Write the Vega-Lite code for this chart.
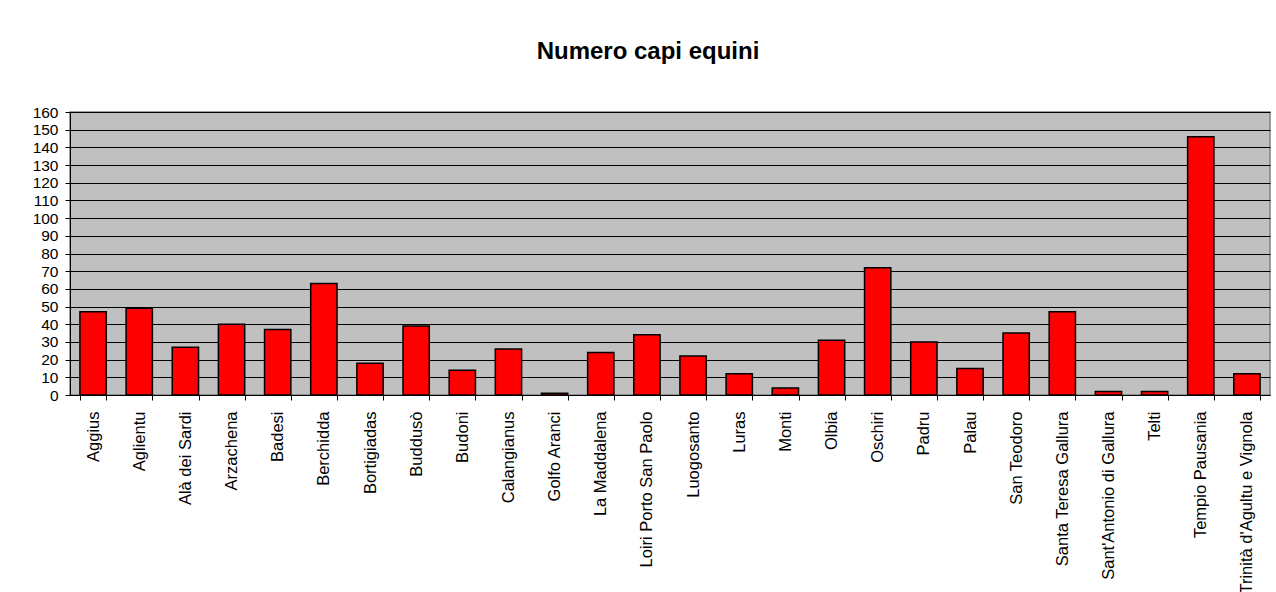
{
  "$schema": "https://vega.github.io/schema/vega-lite/v6.json",
  "autosize": "none",
  "width": 1200,
  "height": 283,
  "padding": {"left": 70, "top": 112, "right": 6, "bottom": 197},
  "background": "white",
  "title": {
    "text": "Numero capi equini",
    "font": "Liberation Sans",
    "fontSize": 24,
    "fontWeight": "bold",
    "color": "black",
    "anchor": "middle",
    "frame": "group",
    "dx": -22,
    "offset": 41
  },
  "data": {
    "values": [
      {"comune": "Aggius", "capi": 47},
      {"comune": "Aglientu", "capi": 49},
      {"comune": "Alà dei Sardi", "capi": 27},
      {"comune": "Arzachena", "capi": 40},
      {"comune": "Badesi", "capi": 37},
      {"comune": "Berchidda", "capi": 63},
      {"comune": "Bortigiadas", "capi": 18},
      {"comune": "Buddusò", "capi": 39},
      {"comune": "Budoni", "capi": 14},
      {"comune": "Calangianus", "capi": 26},
      {"comune": "Golfo Aranci", "capi": 1},
      {"comune": "La Maddalena", "capi": 24},
      {"comune": "Loiri Porto San Paolo", "capi": 34},
      {"comune": "Luogosanto", "capi": 22},
      {"comune": "Luras", "capi": 12},
      {"comune": "Monti", "capi": 4},
      {"comune": "Olbia", "capi": 31},
      {"comune": "Oschiri", "capi": 72},
      {"comune": "Padru", "capi": 30},
      {"comune": "Palau", "capi": 15},
      {"comune": "San Teodoro", "capi": 35},
      {"comune": "Santa Teresa Gallura", "capi": 47},
      {"comune": "Sant'Antonio di Gallura", "capi": 2},
      {"comune": "Telti", "capi": 2},
      {"comune": "Tempio Pausania", "capi": 146},
      {"comune": "Trinità d'Agultu e Vignola", "capi": 12}
    ]
  },
  "mark": {"type": "bar", "color": "#FF0000", "stroke": "black", "strokeWidth": 1.5},
  "encoding": {
    "x": {
      "field": "comune",
      "type": "nominal",
      "sort": null,
      "title": null,
      "scale": {"paddingInner": 0.43, "paddingOuter": 0.215},
      "axis": {
        "labelAngle": 270,
        "labelAlign": "right",
        "labelBaseline": "middle",
        "labelFont": "Liberation Sans",
        "labelFontSize": 16.5,
        "labelColor": "black",
        "labelPadding": 11,
        "labelLimit": 0,
        "tickBand": "extent",
        "tickSize": 5,
        "tickColor": "black",
        "domainColor": "black",
        "grid": false
      }
    },
    "y": {
      "field": "capi",
      "type": "quantitative",
      "title": null,
      "scale": {"domain": [0, 160], "nice": false},
      "axis": {
        "values": [0, 10, 20, 30, 40, 50, 60, 70, 80, 90, 100, 110, 120, 130, 140, 150, 160],
        "labelFont": "Liberation Sans",
        "labelFontSize": 15.5,
        "labelColor": "black",
        "labelPadding": 7,
        "tickSize": 5,
        "tickColor": "black",
        "domainColor": "black",
        "grid": true,
        "gridColor": "black",
        "gridOpacity": 1,
        "gridWidth": 1
      }
    }
  },
  "config": {
    "view": {"fill": "#C0C0C0", "stroke": "#808080", "strokeWidth": 1.5}
  }
}
